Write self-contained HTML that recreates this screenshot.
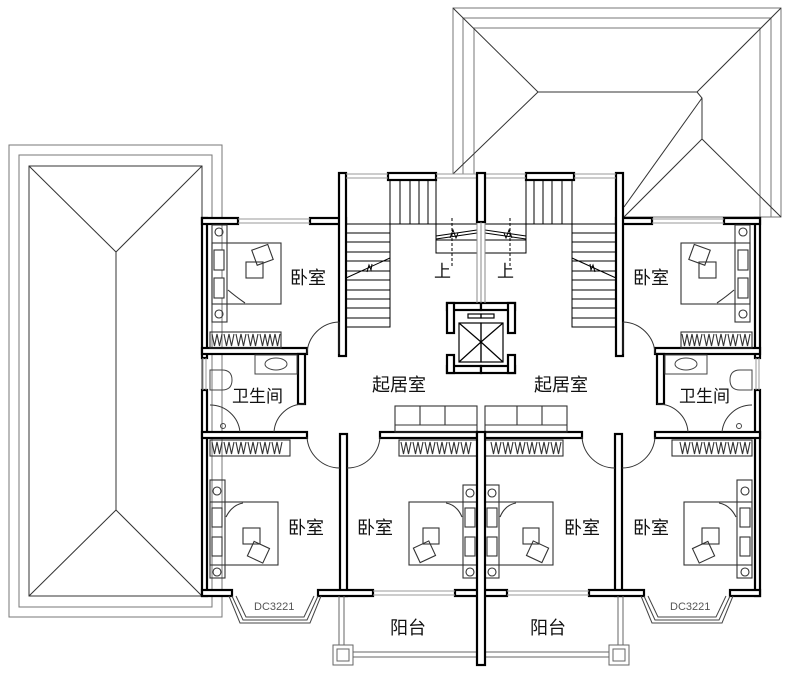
<!DOCTYPE html>
<html><head><meta charset="utf-8"><style>
html,body{margin:0;padding:0;background:#fff}
svg{display:block}
.t{font-family:"Liberation Sans","Noto Sans CJK SC",sans-serif;fill:#111}
</style></head><body>
<svg width="789" height="673" viewBox="0 0 789 673" xmlns="http://www.w3.org/2000/svg">
<defs>
<g id="half" fill="none" stroke="#000">
  <g fill="#fff" stroke="#000" stroke-width="2.2">
    <rect x="202" y="218" width="5" height="140"/>
    <rect x="202" y="390" width="5" height="206"/>
    <rect x="202" y="218" width="36" height="6"/>
    <rect x="310" y="218" width="36" height="6"/>
    <rect x="339" y="173" width="7" height="183"/>
    <rect x="202" y="348" width="105" height="6"/>
    <rect x="298" y="354" width="7" height="50"/>
    <rect x="202" y="432" width="105" height="6"/>
    <rect x="340" y="434" width="7" height="162"/>
    <rect x="380" y="432" width="97" height="6"/>
    <rect x="202" y="590" width="30" height="6"/>
    <rect x="318" y="590" width="55" height="6"/>
    <rect x="455" y="590" width="26" height="6"/>
    <rect x="388" y="173" width="48" height="7"/>
    <rect x="447" y="303" width="34" height="7"/>
    <rect x="447" y="366" width="34" height="7"/>
    <rect x="447" y="303" width="7" height="30"/>
    <rect x="447" y="355" width="7" height="18"/>
  </g>
  <g stroke="#999" stroke-width="1">
    <line x1="238" y1="219" x2="310" y2="219"/><line x1="238" y1="223" x2="310" y2="223"/>
    <line x1="203" y1="358" x2="203" y2="390"/><line x1="206" y1="358" x2="206" y2="390"/>
    <line x1="346" y1="174" x2="388" y2="174"/><line x1="346" y1="178" x2="388" y2="178"/>
    <line x1="436" y1="174" x2="477" y2="174"/><line x1="436" y1="178" x2="477" y2="178"/>
    <line x1="373" y1="591" x2="455" y2="591"/><line x1="373" y1="595" x2="455" y2="595"/>
  </g>
  <g stroke="#444" stroke-width="1">
    <polyline points="232,596 243,620 307,620 318,596"/>
    <polyline points="236,596 246,617 304,617 314,596"/>
    <polyline points="229,596 240,623 310,623 321,596"/>
  </g>
  <g stroke="#000" stroke-width="1">
    <rect x="346" y="224" width="44" height="103"/>
    <line x1="346" y1="233" x2="390" y2="233"/><line x1="346" y1="242" x2="390" y2="242"/>
    <line x1="346" y1="252" x2="390" y2="252"/><line x1="346" y1="261" x2="390" y2="261"/>
    <line x1="346" y1="271" x2="390" y2="271"/><line x1="346" y1="280" x2="390" y2="280"/>
    <line x1="346" y1="290" x2="390" y2="290"/><line x1="346" y1="299" x2="390" y2="299"/>
    <line x1="346" y1="308" x2="390" y2="308"/><line x1="346" y1="318" x2="390" y2="318"/>
    <line x1="346" y1="278" x2="390" y2="258"/>
    <polyline points="367,272 369,265 371,270 372,264"/>
    <rect x="390" y="180" width="46" height="44"/>
    <line x1="400" y1="180" x2="400" y2="224"/><line x1="410" y1="180" x2="410" y2="224"/>
    <line x1="419" y1="180" x2="419" y2="224"/><line x1="428" y1="180" x2="428" y2="224"/>
    <line x1="390" y1="224" x2="477" y2="224"/>
    <rect x="436" y="224" width="41" height="29"/>
    <line x1="436" y1="240" x2="477" y2="240"/>
    <line x1="436" y1="236" x2="477" y2="230"/>
    <line x1="436" y1="239" x2="477" y2="233"/>
    <polyline points="450,238 453,230 456,238 458,233"/>
    <line x1="452" y1="218" x2="452" y2="268" stroke-dasharray="3,2"/>
    <line x1="477" y1="222" x2="477" y2="303" stroke="#888"/>
  </g>
  <g stroke="#000" stroke-width="1.2">
    <rect x="459" y="323" width="22" height="39"/>
    <line x1="459" y1="323" x2="481" y2="342"/>
    <line x1="459" y1="362" x2="481" y2="342"/>
    <rect x="468" y="314" width="13" height="4"/>
  </g>
  <g stroke="#333" stroke-width="1">
    <path d="M339,322 A33,33 0 0 0 307,354"/><line x1="339" y1="322" x2="339" y2="354"/>
    <path d="M305,404 A30,30 0 0 0 274,432"/>
    <path d="M307,437 A33,33 0 0 0 340,468"/>
    <path d="M380,437 A33,33 0 0 1 347,468"/>
    <path d="M210,405 A30,30 0 0 1 240,432"/>
  </g>
  <g stroke="#333" stroke-width="1.1">
    <rect x="212" y="225" width="15" height="97"/>
    <rect x="212" y="243" width="69" height="61"/>
    <rect x="214" y="250" width="10" height="20" fill="#fff"/>
    <rect x="214" y="278" width="10" height="20" fill="#fff"/>
    <circle cx="219" cy="232" r="4"/><circle cx="219" cy="314" r="4"/>
    <rect x="246" y="262" width="17" height="16"/>
    <rect x="254" y="247" width="17" height="16" transform="rotate(-20 262 255)"/>
    <path d="M228,290 Q235,296 245,303"/>
    <rect x="210" y="332" width="71" height="16"/>
    <path d="M212,334 l2.5,12 l2.5,-12 l2.5,12 l2.5,-12 M224,334 l2.5,12 l2.5,-12 l2.5,12 l2.5,-12 M236,334 l2.5,12 l2.5,-12 l2.5,12 l2.5,-12 M248,334 l2.5,12 l2.5,-12 l2.5,12 l2.5,-12 M260,334 l2.5,12 l2.5,-12 l2.5,12 l2.5,-12 M270,334 l2.5,12 l2.5,-12 l2.5,12 l2.5,-12"/>
  </g>
  <g stroke="#444" stroke-width="1">
    <rect x="255" y="355" width="42" height="19"/>
    <ellipse cx="276" cy="364" rx="11" ry="6"/>
    <path d="M210,370 h12 q10,0 10,10 q0,10 -10,10 h-12 z"/>
    <circle cx="223" cy="426" r="2.5"/>
  </g>
  <g stroke="#333" stroke-width="1.1">
    <rect x="210" y="440" width="80" height="16"/>
    <path d="M212,442 l2.5,12 l2.5,-12 l2.5,12 l2.5,-12 M224,442 l2.5,12 l2.5,-12 l2.5,12 l2.5,-12 M236,442 l2.5,12 l2.5,-12 l2.5,12 l2.5,-12 M248,442 l2.5,12 l2.5,-12 l2.5,12 l2.5,-12 M260,442 l2.5,12 l2.5,-12 l2.5,12 l2.5,-12 M272,442 l2.5,12 l2.5,-12 l2.5,12 l2.5,-12"/>
    <rect x="210" y="480" width="15" height="98"/>
    <rect x="210" y="502" width="68" height="63"/>
    <rect x="212" y="508" width="10" height="19" fill="#fff"/>
    <rect x="212" y="537" width="10" height="19" fill="#fff"/>
    <circle cx="217" cy="491" r="4"/><circle cx="217" cy="572" r="4"/>
    <rect x="243" y="528" width="17" height="16"/>
    <rect x="250" y="544" width="17" height="16" transform="rotate(25 258 552)"/>
    <path d="M226,517 Q232,505 243,503"/>
    <rect x="399" y="440" width="78" height="16"/>
    <path d="M401,442 l2.5,12 l2.5,-12 l2.5,12 l2.5,-12 M413,442 l2.5,12 l2.5,-12 l2.5,12 l2.5,-12 M425,442 l2.5,12 l2.5,-12 l2.5,12 l2.5,-12 M437,442 l2.5,12 l2.5,-12 l2.5,12 l2.5,-12 M449,442 l2.5,12 l2.5,-12 l2.5,12 l2.5,-12 M461,442 l2.5,12 l2.5,-12 l2.5,12 l2.5,-12"/>
    <rect x="463" y="485" width="14" height="93"/>
    <rect x="409" y="502" width="68" height="63"/>
    <rect x="465" y="508" width="10" height="19" fill="#fff"/>
    <rect x="465" y="537" width="10" height="19" fill="#fff"/>
    <circle cx="470" cy="493" r="4"/><circle cx="470" cy="572" r="4"/>
    <rect x="423" y="528" width="16" height="16"/>
    <rect x="416" y="544" width="17" height="16" transform="rotate(-25 424 552)"/>
    <path d="M462,517 Q457,505 446,503"/>
    <rect x="395" y="406" width="82" height="26"/>
    <line x1="395" y1="425" x2="477" y2="425"/>
    <line x1="420" y1="406" x2="420" y2="425"/><line x1="445" y1="406" x2="445" y2="425"/>
  </g>
  <g stroke="#666" stroke-width="1">
    <line x1="339" y1="596" x2="339" y2="645"/><line x1="344" y1="596" x2="344" y2="645"/>
    <line x1="353" y1="652" x2="481" y2="652"/><line x1="353" y1="657" x2="481" y2="657"/>
    <rect x="333" y="645" width="20" height="20"/>
    <rect x="337" y="649" width="12" height="12"/>
  </g>
</g>
</defs>
<g fill="none" stroke="#777" stroke-width="1">
  <rect x="9" y="145" width="213" height="472"/>
  <rect x="19" y="155" width="193" height="452"/>
  <rect x="29" y="166" width="173" height="430" stroke="#333"/>
  <g stroke="#333"><line x1="29" y1="166" x2="116" y2="252"/><line x1="202" y1="166" x2="116" y2="252"/>
  <line x1="116" y1="252" x2="116" y2="510"/>
  <line x1="29" y1="596" x2="116" y2="510"/><line x1="202" y1="596" x2="116" y2="510"/></g>
</g>
<g fill="none" stroke="#777" stroke-width="1">
  <polyline points="453,174 453,8 781,8 781,217 624,217"/>
  <polyline points="463,174 463,18 771,18 771,217"/>
  <polyline points="474,174 474,28 760,28 760,217"/>
  <g stroke="#333">
  <line x1="453" y1="8" x2="538" y2="92"/><line x1="781" y1="8" x2="697" y2="92"/>
  <line x1="538" y1="92" x2="697" y2="92"/>
  <line x1="538" y1="92" x2="453" y2="174"/>
  <polyline points="697,92 702,98 702,139"/>
  <line x1="702" y1="98" x2="624" y2="207"/>
  <line x1="702" y1="139" x2="624" y2="217"/>
  <line x1="702" y1="139" x2="781" y2="217"/></g>
</g>
<use href="#half"/>
<use href="#half" transform="translate(962,0) scale(-1,1)"/>
<rect x="477" y="173" width="8" height="49" fill="#fff" stroke="#000" stroke-width="2.2"/>
<rect x="477" y="432" width="8" height="233" fill="#fff" stroke="#000" stroke-width="2.2"/>
<line x1="481" y1="222" x2="481" y2="303" stroke="#888"/>
<g class="t" font-size="18">
  <text x="290" y="284">卧室</text>
  <text x="633" y="284">卧室</text>
  <text x="232" y="402" font-size="17">卫生间</text>
  <text x="679" y="402" font-size="17">卫生间</text>
  <text x="372" y="391">起居室</text>
  <text x="534" y="391">起居室</text>
  <text x="288" y="534">卧室</text>
  <text x="357" y="534">卧室</text>
  <text x="564" y="534">卧室</text>
  <text x="633" y="534">卧室</text>
  <text x="390" y="634">阳台</text>
  <text x="530" y="634">阳台</text>
  <text x="434" y="277" font-size="17">上</text>
  <text x="497" y="277" font-size="17">上</text>
</g>
<g font-family="Liberation Sans, sans-serif" font-size="11" fill="#555">
  <text x="254" y="610">DC3221</text>
  <text x="670" y="610">DC3221</text>
</g>
</svg>
</body></html>
